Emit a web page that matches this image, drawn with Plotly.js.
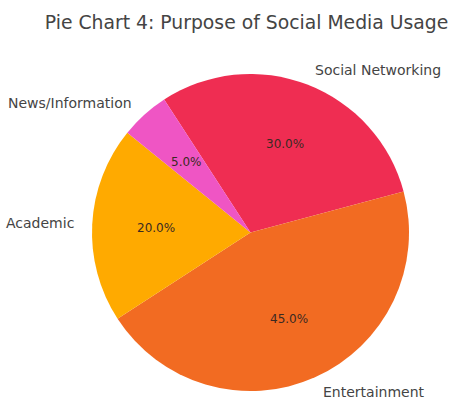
<!DOCTYPE html>
<html>
<head>
<meta charset="utf-8">
<script src="https://cdn.plot.ly/plotly-3.0.1.min.js"></script>
<style>html,body{margin:0;padding:0;background:#fff;}#chart{width:460px;height:400px;}</style>
</head>
<body>
<div id="chart"></div>
<script>
const categories = ['Social Networking', 'Entertainment', 'Academic', 'News/Information'];
const shares = [30, 45, 20, 5];
const sliceColors = ['#EF2D52', '#F26B22', '#FFAA00', '#EF55C4'];
const titleText = 'Pie Chart 4: Purpose of Social Media Usage';

const startAngleDeg = 123;   // where the first slice begins (counter-clockwise from 3 o'clock)
const labelDistance = 1.1;   // as fraction of radius
const pctDistance = 0.6;

const total = shares.reduce((a, b) => a + b, 0);

// annotations derived from data (labels outside, percents inside)
const annotations = [];
let angle = startAngleDeg;
shares.forEach((v, i) => {
  const span = v / total * 360;
  const mid = (angle - span / 2) * Math.PI / 180;
  angle -= span;
  const cx = Math.cos(mid), cy = Math.sin(mid);
  annotations.push({
    xref: 'paper', yref: 'paper',
    x: 0.5 + 0.5 * labelDistance * cx, y: 0.5 + 0.5 * labelDistance * cy,
    text: categories[i], showarrow: false,
    xanchor: cx >= 0 ? 'left' : 'right', yanchor: 'middle',
    font: {family: 'DejaVu Sans', size: 14, color: '#444'}
  });
  annotations.push({
    xref: 'paper', yref: 'paper',
    x: 0.5 + 0.5 * pctDistance * cx, y: 0.5 + 0.5 * pctDistance * cy,
    text: (v / total * 100).toFixed(1) + '%', showarrow: false,
    xanchor: 'center', yanchor: 'middle',
    font: {family: 'DejaVu Sans', size: 12, color: '#3a2a22'}
  });
});

const data = [{
  type: 'pie',
  labels: categories,
  values: shares,
  sort: false,
  direction: 'clockwise',
  rotation: 90 - startAngleDeg,
  marker: {colors: sliceColors, line: {width: 0}},
  textinfo: 'none',
  hoverinfo: 'none',
  automargin: false
}];

const layout = {
  width: 460, height: 400,
  margin: {l: 92, r: 51, t: 74, b: 9},
  paper_bgcolor: '#fff',
  showlegend: false,
  annotations: annotations,
  title: {
    text: titleText,
    font: {family: 'DejaVu Sans', size: 18.8, color: '#444'},
    x: 0.536, xanchor: 'center', y: 0.945, yanchor: 'middle', yref: 'container'
  }
};

Plotly.newPlot('chart', data, layout, {staticPlot: true, displayModeBar: false});
</script>
</body>
</html>
